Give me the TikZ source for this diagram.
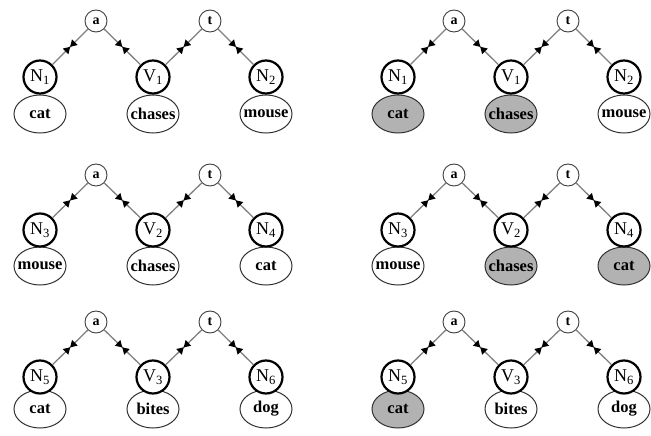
\documentclass[tikz,border=0pt]{standalone}
\usepackage{fontspec}
\setmainfont{Liberation Serif}
\usetikzlibrary{shapes.geometric,decorations.markings}
\tikzset{
 smallnode/.style={circle, draw=black!75, line width=0.9pt, fill=white, minimum size=22pt, inner sep=0pt, font=\fontsize{14}{14}\selectfont\bfseries},
 varnode/.style={circle, draw=black, line width=2.2pt, fill=white, minimum size=33pt, inner sep=0pt, font=\fontsize{18}{18}\selectfont},
 wordnode/.style={ellipse, draw=black!80, line width=1pt, fill=white, minimum width=52pt, minimum height=38pt, inner sep=0pt},
 wordtext/.style={font=\fontsize{16.5}{16.5}\selectfont\bfseries, inner sep=0pt},
 e1/.style={}, e2/.style={}, e3/.style={},
 shaded/.style={fill=gray!60},
 link/.style={draw=black!50, line width=1.3pt, postaction={decorate},
   decoration={markings, mark=at position 0.5 with {\fill[black] (-6.5pt,4pt) -- (0pt,0pt) -- (-6.5pt,-4pt) -- cycle; \fill[black] (6.5pt,4pt) -- (0pt,0pt) -- (6.5pt,-4pt) -- cycle;}}},
}
\newcommand\drawpanel[8]{%
 \node[wordnode,e1,label={[wordtext]center:#6}] (#1w1) at (40,#4) {};
 \node[wordnode,e2,label={[wordtext]center:#7}] (#1w2) at (153,#4) {};
 \node[wordnode,e3,label={[wordtext]center:#8}] (#1w3) at (266,#4) {};
 \node[smallnode] (#1a) at (96,#2) {a};
 \node[smallnode] (#1t) at (210,#2) {t};
 \node[varnode] (#1n1) at (40,#3) {N\textsubscript{\the\numexpr2*#5-1\relax}};
 \node[varnode] (#1v) at (153,#3) {V\textsubscript{#5}};
 \node[varnode] (#1n2) at (266,#3) {N\textsubscript{\the\numexpr2*#5\relax}};
 \path[link] (#1a) -- (#1n1);
 \path[link] (#1a) -- (#1v);
 \path[link] (#1t) -- (#1v);
 \path[link] (#1t) -- (#1n2);
}
\begin{document}
\begin{tikzpicture}[x=1pt,y=-1pt]
\useasboundingbox (0,0) rectangle (651,436);
\drawpanel{la}{21}{77}{114}{1}{cat}{chases}{mouse}
\drawpanel{lb}{175}{230}{266}{2}{mouse}{chases}{cat}
\drawpanel{lc}{322}{377}{409}{3}{cat}{bites}{dog}
\begin{scope}[xshift=358pt, e1/.style={shaded}, e2/.style={shaded}]
\drawpanel{ra}{21}{77}{114}{1}{cat}{chases}{mouse}
\end{scope}
\begin{scope}[xshift=358pt, e2/.style={shaded}, e3/.style={shaded}]
\drawpanel{rb}{175}{230}{266}{2}{mouse}{chases}{cat}
\end{scope}
\begin{scope}[xshift=358pt, e1/.style={shaded}]
\drawpanel{rc}{322}{377}{409}{3}{cat}{bites}{dog}
\end{scope}
\end{tikzpicture}
\end{document}
